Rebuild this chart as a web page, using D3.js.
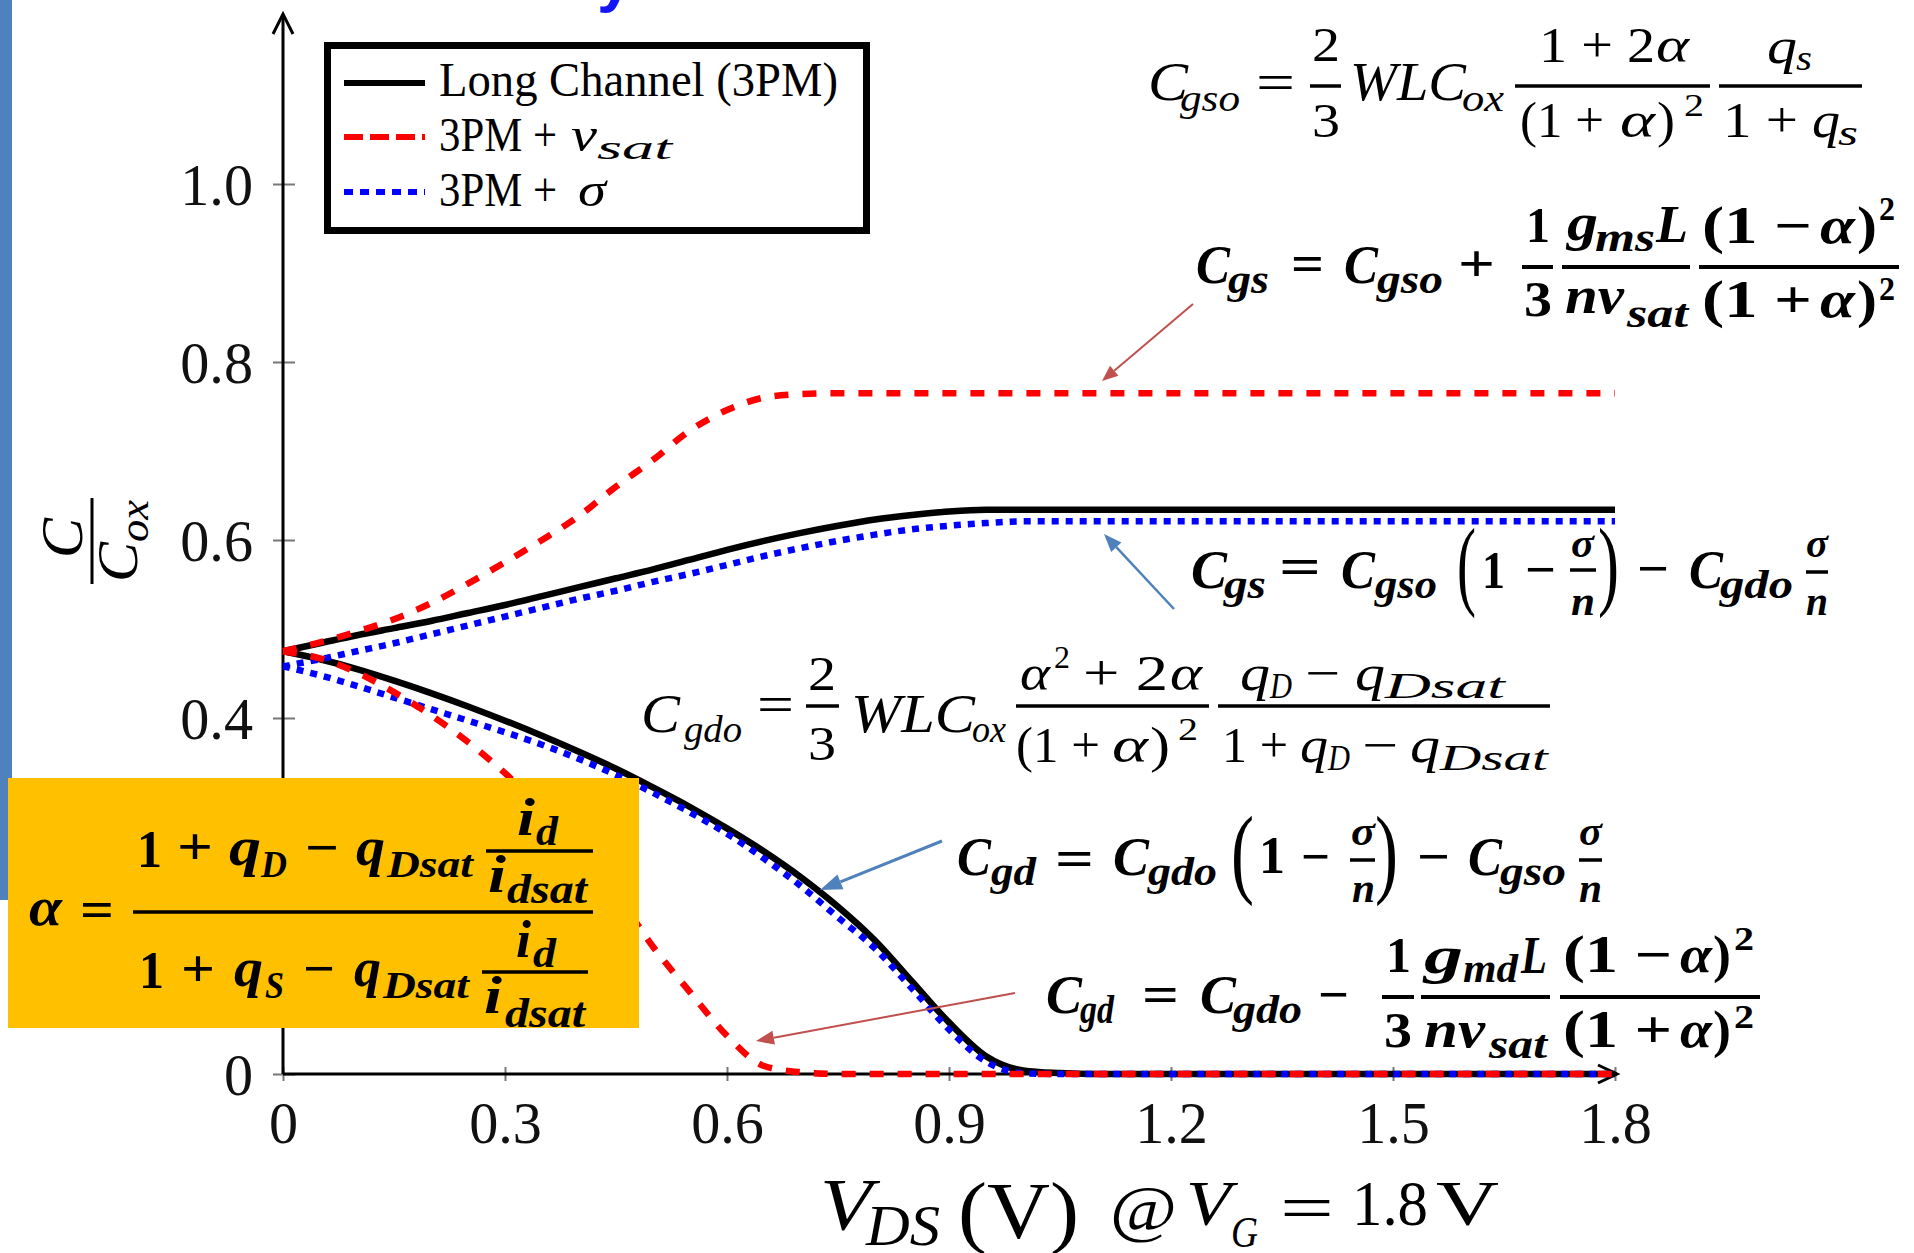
<!DOCTYPE html>
<html><head><meta charset="utf-8">
<script src="https://cdn.jsdelivr.net/npm/d3@7"></script>
<style>
html,body{margin:0;padding:0;background:#fff;overflow:hidden}
svg{display:block}
</style></head><body>
<svg id="chart" width="1914" height="1253"></svg>
<script>
// Drain-source voltage samples (V)
const vds = [0,0.05,0.1,0.15,0.2,0.25,0.3,0.35,0.4,0.45,0.5,0.55,0.6,0.65,0.7,0.75,0.8,0.85,0.9,0.95,1.0,1.05,1.1,1.2,1.4,1.6,1.8];

// Normalized gate capacitances C/Cox for each model
const cgsLong  = [0.475,0.484,0.493,0.501,0.509,0.518,0.527,0.537,0.547,0.557,0.567,0.578,0.589,0.599,0.608,0.616,0.623,0.628,0.632,0.634,0.634,0.634,0.634,0.634,0.634,0.634,0.634];
const cgsVsat  = [0.475,0.485,0.497,0.511,0.529,0.551,0.575,0.600,0.627,0.660,0.690,0.723,0.746,0.760,0.764,0.765,0.765,0.765,0.765,0.765,0.765,0.765,0.765,0.765,0.765,0.765,0.765];
const cgsSigma = [0.458,0.466,0.475,0.484,0.494,0.504,0.514,0.524,0.534,0.543,0.553,0.562,0.572,0.582,0.591,0.599,0.606,0.612,0.616,0.619,0.621,0.621,0.621,0.621,0.621,0.621,0.621];
const cgdLong  = [0.475,0.466,0.455,0.442,0.428,0.413,0.397,0.380,0.362,0.343,0.322,0.300,0.276,0.250,0.221,0.188,0.150,0.104,0.058,0.020,0.004,0.001,0,0,0,0,0];
const cgdVsat  = [0.475,0.467,0.451,0.429,0.403,0.373,0.338,0.298,0.255,0.203,0.143,0.092,0.043,0.009,0.002,0,0,0,0,0,0,0,0,0,0,0,0];
const cgdSigma = [0.458,0.448,0.436,0.423,0.410,0.397,0.384,0.370,0.354,0.336,0.316,0.294,0.270,0.242,0.211,0.176,0.141,0.096,0.050,0.014,0.001,0,0,0,0,0,0];

const xTicks = [0,0.3,0.6,0.9,1.2,1.5,1.8];
const xTickLabels = ["0","0.3","0.6","0.9","1.2","1.5","1.8"];
const yTicks = [0,0.2,0.4,0.6,0.8,1.0];
const yTickLabels = ["0","0.2","0.4","0.6","0.8","1.0"];

const SERIF = "'Liberation Serif','Times New Roman',serif";
const svg = d3.select("#chart");
svg.append("rect").attr("width",1914).attr("height",1253).attr("fill","#fff");

// slide decoration: side strip and the tail of a title glyph
svg.append("rect").attr("x",0).attr("y",0).attr("width",12).attr("height",900).attr("fill","#4f81bd");
svg.append("text").attr("x",597).attr("y",0).attr("font-family","'Liberation Sans',Arial,sans-serif")
  .attr("font-weight","bold").attr("font-size",64).attr("fill","#1414f5").text("y");

const x = d3.scaleLinear().domain([0,1.8]).range([283,1615]);
const y = d3.scaleLinear().domain([0,1]).range([1074,184]);

// ---- axes ----
const gx = svg.append("g").attr("transform",`translate(0,${y(0)})`)
  .call(d3.axisBottom(x).tickValues(xTicks).tickFormat((d,i)=>xTickLabels[i]).tickSize(7));
gx.select(".domain").remove();
gx.selectAll(".tick line").attr("y1",-7).attr("y2",7).attr("stroke","#777").attr("stroke-width",2);
gx.selectAll(".tick text").attr("y",69).attr("dy",null).attr("font-size",60)
  .attr("font-family",SERIF).attr("fill","#111");

const gy = svg.append("g").attr("transform",`translate(${x(0)},0)`)
  .call(d3.axisLeft(y).tickValues(yTicks).tickFormat((d,i)=>yTickLabels[i]).tickSize(10));
gy.select(".domain").remove();
gy.selectAll(".tick line").attr("x1",12).attr("x2",-10).attr("stroke","#777").attr("stroke-width",2);
gy.selectAll(".tick text").attr("x",-30).attr("dy",null).attr("y",20).attr("font-size",60)
  .attr("font-family",SERIF).attr("fill","#111");

svg.selectAll(".tick text").each(function(){
  const L = this.getComputedTextLength();
  d3.select(this).attr("textLength",L*0.97).attr("lengthAdjust","spacingAndGlyphs");
});

// axis lines with open arrow heads
const ax = svg.append("g").attr("stroke","#000").attr("fill","none").attr("stroke-width",3);
ax.append("line").attr("x1",x(0)).attr("y1",y(0)).attr("x2",x(0)).attr("y2",14);
ax.append("path").attr("d",`M${x(0)-10},34 L${x(0)},14 L${x(0)+10},34`);
ax.append("line").attr("x1",x(0)).attr("y1",y(0)).attr("x2",1617).attr("y2",y(0));
ax.append("path").attr("d",`M1598,${y(0)-9} L1617,${y(0)} L1598,${y(0)+9}`);

// ---- curves ----
const line = d3.line().x((d,i)=>x(vds[i])).y(d=>y(d)).curve(d3.curveMonotoneX);
const styles = {
  long:  {stroke:"#000", dash:null},
  sigma: {stroke:"#0000ff", dash:"7 7"},
  vsat:  {stroke:"#ff0000", dash:"14 14"}
};
function curve(data, st){
  svg.append("path").attr("d",line(data)).attr("fill","none")
    .attr("stroke",st.stroke).attr("stroke-width",6.5)
    .attr("stroke-dasharray",st.dash);
}
curve(cgsLong, styles.long); curve(cgdLong, styles.long);
curve(cgsSigma, styles.sigma); curve(cgdSigma, styles.sigma);
curve(cgsVsat, styles.vsat); curve(cgdVsat, styles.vsat);

// ---- text helpers ----
function T(g, s, x0, x1, yb, size, st){
  const t = g.append("text").attr("x",x0).attr("y",yb).attr("font-size",size)
    .attr("font-family",SERIF).attr("fill","#000").text(s);
  if (st.indexOf("i")>=0) t.attr("font-style","italic");
  if (st.indexOf("b")>=0) t.attr("font-weight","bold");
  if (x1 != null) t.attr("textLength",x1-x0).attr("lengthAdjust","spacingAndGlyphs");
  return t;
}
function op(g, s, x0, x1, yc, size, st){ return T(g, s, x0, x1, yc + 0.26*size, size, st); }
function bar(g, x0, x1, yc, w){
  g.append("rect").attr("x",x0).attr("y",yc-w/2).attr("width",x1-x0).attr("height",w).attr("fill","#000");
}
function arrow(g, x1, y1, x2, y2, color, w, hl, hw){
  const dx=x2-x1, dy=y2-y1, L=Math.hypot(dx,dy), ux=dx/L, uy=dy/L;
  const bx=x2-ux*hl, by=y2-uy*hl;
  g.append("line").attr("x1",x1).attr("y1",y1).attr("x2",bx).attr("y2",by)
    .attr("stroke",color).attr("stroke-width",w);
  g.append("path").attr("d",`M${x2},${y2} L${bx-uy*hw/2},${by+ux*hw/2} L${bx+uy*hw/2},${by-ux*hw/2} Z`)
    .attr("fill",color);
}

// ---- legend ----
const lg = svg.append("g");
lg.append("rect").attr("x",327.5).attr("y",45.5).attr("width",539).attr("height",185)
  .attr("fill","#fff").attr("stroke","#000").attr("stroke-width",7);
lg.append("line").attr("x1",344).attr("x2",425).attr("y1",83).attr("y2",83).attr("stroke","#000").attr("stroke-width",6);
lg.append("line").attr("x1",344).attr("x2",425).attr("y1",137).attr("y2",137).attr("stroke","#ff0000").attr("stroke-width",6).attr("stroke-dasharray","19 7");
lg.append("line").attr("x1",344).attr("x2",425).attr("y1",192).attr("y2",192).attr("stroke","#0000ff").attr("stroke-width",6).attr("stroke-dasharray","9 7");
T(lg,"Long Channel (3PM)",439,838,96,48,"r");
T(lg,"3PM +",439,557,151,48,"r");
T(lg,"v",571,597,151,48,"i");
T(lg,"sat",597,672,159,34,"i");
T(lg,"3PM +",439,557,206,48,"r");
T(lg,"σ",578,606,206,48,"i");

// ---- axis titles ----
const yl = svg.append("g").attr("transform","translate(95,540) rotate(-90)");
T(yl,"C",-18,22,-13,60,"i");
bar(yl,-44,42,-3,3);
T(yl,"C",-42,-2,42,58,"i");
T(yl,"ox",-2,40,53,42,"i");

const xl = svg.append("g");
T(xl,"V",820,872,1230,74,"i");
T(xl,"DS",866,940,1245,58,"i");
T(xl,"(V)",958,1079,1238,80,"r");
T(xl,"@",1110,1177,1230,64,"r");
T(xl,"V",1186,1231,1225,64,"i");
T(xl,"G",1231,1258,1247,44,"i");
op(xl,"=",1280,1334,1212,64,"r");
T(xl,"1.8",1352,1428,1225,64,"r");
T(xl,"V",1436,1499,1225,64,"r");

// ---- annotation formulas ----
const eq = svg.append("g");

// C_gso
T(eq,"C",1148,1188,100,54,"i"); T(eq,"gso",1180,1240,111,38,"i");
op(eq,"=",1256,1295,86,52,"r");
T(eq,"2",1312,1340,61,48,"r"); bar(eq,1310,1341,86,3.5); T(eq,"3",1312,1340,137,48,"r");
T(eq,"WLC",1350,1466,100,54,"i"); T(eq,"ox",1462,1504,111,38,"i");
bar(eq,1515,1710,86,3.5);
T(eq,"1 + 2",1539,1655,62,50,"r"); T(eq,"α",1656,1689,62,50,"i");
T(eq,"(1 +",1520,1604,137,50,"r"); T(eq,"α",1620,1655,137,50,"i"); T(eq,")",1657,1675,137,50,"r");
T(eq,"2",1684,1704,116,32,"r");
bar(eq,1719,1862,86,3.5);
T(eq,"q",1767,1797,63,50,"i"); T(eq,"s",1796,1812,70,36,"i");
T(eq,"1 +",1723,1798,137,50,"r"); T(eq,"q",1812,1840,137,50,"i"); T(eq,"s",1838,1858,145,36,"i");

// C_gs with velocity saturation
T(eq,"C",1196,1230,283,54,"bi"); T(eq,"gs",1228,1269,293,40,"bi");
op(eq,"=",1291,1324,267,52,"b");
T(eq,"C",1344,1378,283,54,"bi"); T(eq,"gso",1377,1443,293,40,"bi");
op(eq,"+",1458,1495,267,52,"b");
T(eq,"1",1526,1550,242,50,"b"); bar(eq,1522,1553,267,4); T(eq,"3",1524,1552,316,50,"b");
bar(eq,1562,1690,267,4);
T(eq,"g",1567,1598,240,52,"bi"); T(eq,"ms",1595,1655,251,40,"bi"); T(eq,"L",1656,1688,242,52,"bi");
T(eq,"nv",1565,1624,313,52,"bi"); T(eq,"sat",1627,1688,327,40,"bi");
bar(eq,1699,1899,267,4);
T(eq,"(1 −",1702,1812,243,52,"b"); T(eq,"α",1820,1855,243,52,"bi"); T(eq,")",1857,1877,243,52,"b");
T(eq,"2",1879,1895,220,34,"b");
T(eq,"(1 +",1702,1812,317,52,"b"); T(eq,"α",1820,1855,317,52,"bi"); T(eq,")",1857,1877,317,52,"b");
T(eq,"2",1879,1895,300,34,"b");

// C_gs with sigma
T(eq,"C",1191,1227,588,54,"bi"); T(eq,"gs",1224,1266,598,40,"bi");
op(eq,"=",1279,1321,570,52,"b");
T(eq,"C",1341,1375,588,54,"bi"); T(eq,"gso",1375,1437,598,40,"bi");
T(eq,"(",1457,1476,597,100,"r");
T(eq,"1",1482,1505,588,52,"b");
op(eq,"−",1525,1556,573,52,"b");
T(eq,"σ",1571,1594,557,40,"bi"); bar(eq,1570,1596,570,3.5); T(eq,"n",1571,1595,615,42,"bi");
T(eq,")",1598,1619,597,100,"r");
op(eq,"−",1637,1669,572,52,"b");
T(eq,"C",1689,1723,588,54,"bi"); T(eq,"gdo",1720,1793,598,40,"bi");
T(eq,"σ",1806,1828,557,40,"bi"); bar(eq,1806,1828,572,3.5); T(eq,"n",1806,1828,615,42,"bi");

// C_gdo
T(eq,"C",641,680,732,54,"i"); T(eq,"gdo",684,742,742,38,"i");
op(eq,"=",757,794,708,52,"r");
T(eq,"2",808,836,690,48,"r"); bar(eq,806,839,706,3.5); T(eq,"3",808,836,760,48,"r");
T(eq,"WLC",851,975,732,54,"i"); T(eq,"ox",972,1006,742,38,"i");
bar(eq,1016,1209,706,3.5);
T(eq,"α",1020,1050,690,50,"i"); T(eq,"2",1054,1070,668,32,"r");
T(eq,"+ 2",1083,1168,690,50,"r"); T(eq,"α",1170,1202,690,50,"i");
T(eq,"(1 +",1016,1100,762,50,"r"); T(eq,"α",1112,1148,762,50,"i"); T(eq,")",1150,1170,762,50,"r");
T(eq,"2",1178,1198,740,32,"r");
bar(eq,1218,1550,706,3.5);
T(eq,"q",1240,1270,690,50,"i"); T(eq,"D",1270,1292,698,36,"i");
op(eq,"−",1305,1340,677,50,"r");
T(eq,"q",1355,1385,690,50,"i"); T(eq,"Dsat",1385,1505,698,36,"i");
T(eq,"1 +",1222,1288,762,50,"r"); T(eq,"q",1300,1328,762,50,"i"); T(eq,"D",1328,1350,770,36,"i");
op(eq,"−",1362,1398,749,50,"r");
T(eq,"q",1410,1440,762,50,"i"); T(eq,"Dsat",1440,1548,770,36,"i");

// C_gd with sigma
T(eq,"C",957,991,875,54,"bi"); T(eq,"gd",991,1036,885,40,"bi");
op(eq,"=",1055,1094,862,52,"b");
T(eq,"C",1113,1149,875,54,"bi"); T(eq,"gdo",1148,1217,885,40,"bi");
T(eq,"(",1231,1254,885,100,"r");
T(eq,"1",1259,1285,873,52,"b");
op(eq,"−",1301,1330,860,52,"b");
T(eq,"σ",1351,1375,845,40,"bi"); bar(eq,1350,1375,860,3.5); T(eq,"n",1352,1375,902,42,"bi");
T(eq,")",1375,1398,885,100,"r");
op(eq,"−",1417,1450,860,52,"b");
T(eq,"C",1468,1502,875,54,"bi"); T(eq,"gso",1500,1566,885,40,"bi");
T(eq,"σ",1579,1602,845,40,"bi"); bar(eq,1579,1602,860,3.5); T(eq,"n",1579,1602,902,42,"bi");

// C_gd with velocity saturation
T(eq,"C",1046,1082,1013,54,"bi"); T(eq,"gd",1080,1114,1023,40,"bi");
op(eq,"=",1142,1179,998,52,"b");
T(eq,"C",1200,1236,1013,54,"bi"); T(eq,"gdo",1233,1302,1023,40,"bi");
op(eq,"−",1318,1349,998,52,"b");
T(eq,"1",1386,1411,972,50,"b"); bar(eq,1382,1414,997,4); T(eq,"3",1384,1412,1047,50,"b");
bar(eq,1421,1550,997,4);
T(eq,"g",1424,1463,973,52,"bi"); T(eq,"md",1463,1518,982,40,"bi"); T(eq,"L",1521,1547,973,52,"bi");
T(eq,"nv",1424,1485,1047,52,"bi"); T(eq,"sat",1489,1547,1058,40,"bi");
bar(eq,1560,1760,997,4);
T(eq,"(1 −",1563,1672,972,52,"b"); T(eq,"α",1680,1712,972,52,"bi"); T(eq,")",1713,1731,972,52,"b");
T(eq,"2",1734,1754,950,34,"b");
T(eq,"(1 +",1563,1672,1047,52,"b"); T(eq,"α",1680,1712,1047,52,"bi"); T(eq,")",1713,1731,1047,52,"b");
T(eq,"2",1734,1754,1028,34,"b");

// pointer arrows
arrow(eq,1193,304,1102,381,"#c0504d",2,16,13);
arrow(eq,1174,609,1104,534,"#4f81bd",2.5,18,14);
arrow(eq,942,841,820,890,"#4f81bd",3,22,16);
arrow(eq,1015,993,756,1041,"#c0504d",2,18,14);

// ---- alpha definition box ----
const ab = svg.append("g");
ab.append("rect").attr("x",8).attr("y",778).attr("width",631).attr("height",250).attr("fill","#ffc000");
T(ab,"α",29,62,925,54,"bi");
op(ab,"=",80,114,913,52,"b");
bar(ab,133,593,912,3.5);
T(ab,"1",137,162,867,52,"b");
op(ab,"+",177,213,850,52,"b");
T(ab,"q",229,261,865,54,"bi"); T(ab,"D",261,287,877,38,"bi");
op(ab,"−",305,339,851,52,"b");
T(ab,"q",356,385,865,54,"bi"); T(ab,"Dsat",387,473,877,38,"bi");
bar(ab,486,593,851,3.5);
T(ab,"i",517,535,835,52,"bi"); T(ab,"d",536,558,845,42,"bi");
T(ab,"i",488,506,892,52,"bi"); T(ab,"dsat",507,587,903,42,"bi");
T(ab,"1",139,164,988,52,"b");
op(ab,"+",181,215,972,52,"b");
T(ab,"q",234,263,986,54,"bi"); T(ab,"S",265,284,998,38,"bi");
op(ab,"−",303,335,972,52,"b");
T(ab,"q",354,381,986,54,"bi"); T(ab,"Dsat",383,469,998,38,"bi");
bar(ab,482,588,972,3.5);
T(ab,"i",516,531,957,52,"bi"); T(ab,"d",533,556,967,42,"bi");
T(ab,"i",484,502,1013,52,"bi"); T(ab,"dsat",505,585,1027,42,"bi");
</script>
</body></html>
